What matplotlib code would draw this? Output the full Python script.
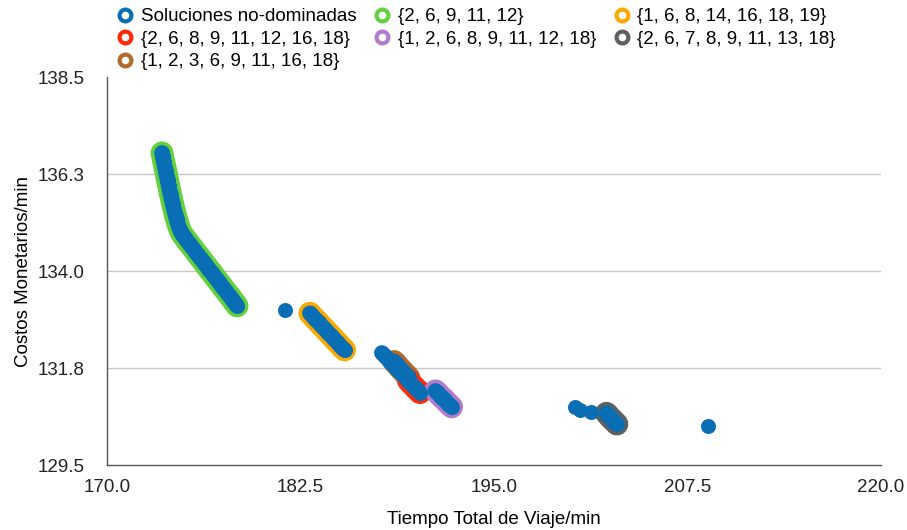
import numpy as np
import matplotlib.pyplot as plt
from matplotlib.lines import Line2D

plt.rcParams['font.family'] = ['Liberation Sans', 'DejaVu Sans']

# Conjuntos de paradas (x = tiempo total de viaje, y = costo monetario)
set_a_x = [173.55, 173.59, 173.63, 173.67, 173.71, 173.75, 173.79, 173.83, 173.87, 173.91,
           173.95, 173.99, 174.03, 174.07, 174.11, 174.16, 174.20, 174.25, 174.29, 174.34,
           174.39, 174.44, 174.49, 174.55, 174.61, 174.68, 174.76, 174.85, 174.95,
           175.05, 175.17, 175.29, 175.41, 175.53, 175.65, 175.77, 175.89, 176.01, 176.13,
           176.25, 176.37, 176.49, 176.61, 176.73, 176.85, 176.97, 177.09, 177.21, 177.33,
           177.45, 177.57, 177.69, 177.81, 177.93, 178.05, 178.17, 178.29, 178.40]
set_a_y = [136.74, 136.67, 136.60, 136.53, 136.46, 136.39, 136.32, 136.25, 136.18, 136.11,
           136.04, 135.97, 135.90, 135.83, 135.76, 135.69, 135.62, 135.55, 135.48, 135.41,
           135.34, 135.27, 135.20, 135.13, 135.06, 134.99, 134.92, 134.86, 134.81,
           134.76, 134.70, 134.65, 134.59, 134.54, 134.48, 134.42, 134.37, 134.31, 134.26,
           134.20, 134.14, 134.09, 134.03, 133.98, 133.92, 133.86, 133.81, 133.75, 133.70,
           133.64, 133.58, 133.53, 133.47, 133.42, 133.36, 133.30, 133.25, 133.19]

set_b_x = [183.11, 183.25, 183.39, 183.53, 183.67, 183.81, 183.95, 184.09, 184.23,
           184.37, 184.51, 184.65, 184.79, 184.93, 185.07, 185.21, 185.35]
set_b_y = [133.02, 132.97, 132.91, 132.86, 132.81, 132.75, 132.70, 132.65, 132.59,
           132.54, 132.49, 132.43, 132.38, 132.33, 132.27, 132.22, 132.17]

set_c_x = [188.55, 188.67, 188.78, 188.90, 189.02, 189.14, 189.26, 189.38, 189.50]
set_c_y = [131.90, 131.86, 131.81, 131.76, 131.71, 131.67, 131.62, 131.58, 131.53]

set_d_x = [189.48, 189.60, 189.73, 189.85, 189.97, 190.10, 190.22]
set_d_y = [131.46, 131.41, 131.36, 131.32, 131.27, 131.23, 131.18]

set_e_x = [191.23, 191.38, 191.53, 191.68, 191.83, 191.98, 192.12, 192.27]
set_e_y = [131.22, 131.17, 131.11, 131.06, 131.01, 130.95, 130.90, 130.85]

set_f_x = [202.28, 202.39, 202.50, 202.62, 202.73, 202.84, 202.95]
set_f_y = [130.70, 130.66, 130.61, 130.57, 130.53, 130.49, 130.45]

# resto de soluciones no dominadas
band_x = [187.76, 187.88, 188.01, 188.13, 188.25, 188.37, 188.50, 188.62, 188.74,
          188.87, 188.99, 189.11, 189.24, 189.36, 189.48]
band_y = [132.10, 132.06, 132.01, 131.97, 131.92, 131.87, 131.82, 131.78, 131.73,
          131.69, 131.64, 131.60, 131.55, 131.50, 131.46]
single_x = [181.50, 200.23, 200.56, 201.31, 208.82]
single_y = [133.09, 130.85, 130.77, 130.73, 130.40]

pareto_x = set_a_x + set_b_x + set_c_x + set_d_x + set_e_x + set_f_x + band_x + single_x
pareto_y = set_a_y + set_b_y + set_c_y + set_d_y + set_e_y + set_f_y + band_y + single_y

labels = ['Soluciones no-dominadas',
          '{2, 6, 9, 11, 12}',
          '{1, 6, 8, 14, 16, 18, 19}',
          '{1, 2, 3, 6, 9, 11, 16, 18}',
          '{2, 6, 8, 9, 11, 12, 16, 18}',
          '{1, 2, 6, 8, 9, 11, 12, 18}',
          '{2, 6, 7, 8, 9, 11, 13, 18}']

xticks = [170.0, 182.5, 195.0, 207.5, 220.0]
xticklabels = ['170.0', '182.5', '195.0', '207.5', '220.0']
yticks = [129.5, 131.75, 134.0, 136.25, 138.5]
yticklabels = ['129.5', '131.8', '134.0', '136.3', '138.5']

blue = '#0A6EB4'
colors = ['#62D13B', '#F9AA00', '#B06A2C', '#FF2A0A', '#B27CCB', '#606060']
sets = [(set_a_x, set_a_y), (set_b_x, set_b_y), (set_c_x, set_c_y),
        (set_d_x, set_d_y), (set_e_x, set_e_y), (set_f_x, set_f_y)]

fig = plt.figure(figsize=(9.07, 5.30), dpi=100)
ax = fig.add_axes([0.118, 0.1226, 0.853, 0.7321])

# cada conjunto: trazo grueso de color; las soluciones encima en azul
for (sx, sy), c in zip(sets, colors):
    ax.plot(sx, sy, '-', lw=16.5, color=c, solid_capstyle='round',
            solid_joinstyle='round', zorder=2)
for sx, sy in sets + [(band_x, band_y)]:
    ax.plot(sx, sy, '-', lw=11.2, color=blue, solid_capstyle='round',
            solid_joinstyle='round', zorder=3)
ax.scatter(pareto_x, pareto_y, s=10.8 ** 2, color=blue, linewidths=0, zorder=3)

ax.set_xlim(170, 220)
ax.set_ylim(129.5, 138.5)
ax.set_xticks(xticks)
ax.set_xticklabels(xticklabels)
ax.set_yticks(yticks)
ax.set_yticklabels(yticklabels)
ax.tick_params(length=0, labelsize=13.5, colors='#222222')
ax.tick_params(axis='x', pad=10)
ax.tick_params(axis='y', pad=16)
for yv in yticks[1:-1]:
    ax.axhline(yv, color='#c8c8c8', lw=1, zorder=0)
for s in ['top', 'right']:
    ax.spines[s].set_visible(False)
for s in ['left', 'bottom']:
    ax.spines[s].set_color('#555555')
    ax.spines[s].set_linewidth(1)

ax.set_xlabel('Tiempo Total de Viaje/min', fontsize=13.5, labelpad=11)
ax.set_ylabel('Costos Monetarios/min', fontsize=13.5, labelpad=4)

# leyenda en 3 columnas, llenado por filas
handles = [Line2D([], [], ls='none', marker='o', ms=8.5, mfc='white', mew=3, mec=c)
           for c in [blue] + colors]
order = [0, 4, 3, 1, 5, 2, 6]
fig.legend([handles[i] for i in order], [labels[i] for i in order],
           ncol=3, loc='upper left', bbox_to_anchor=(0.115, 1.009),
           frameon=False, fontsize=13.5, handlelength=0.8, handletextpad=0.45,
           columnspacing=0.95, labelspacing=0.28, borderaxespad=0.3)

fig.savefig('out.png', dpi=100)
